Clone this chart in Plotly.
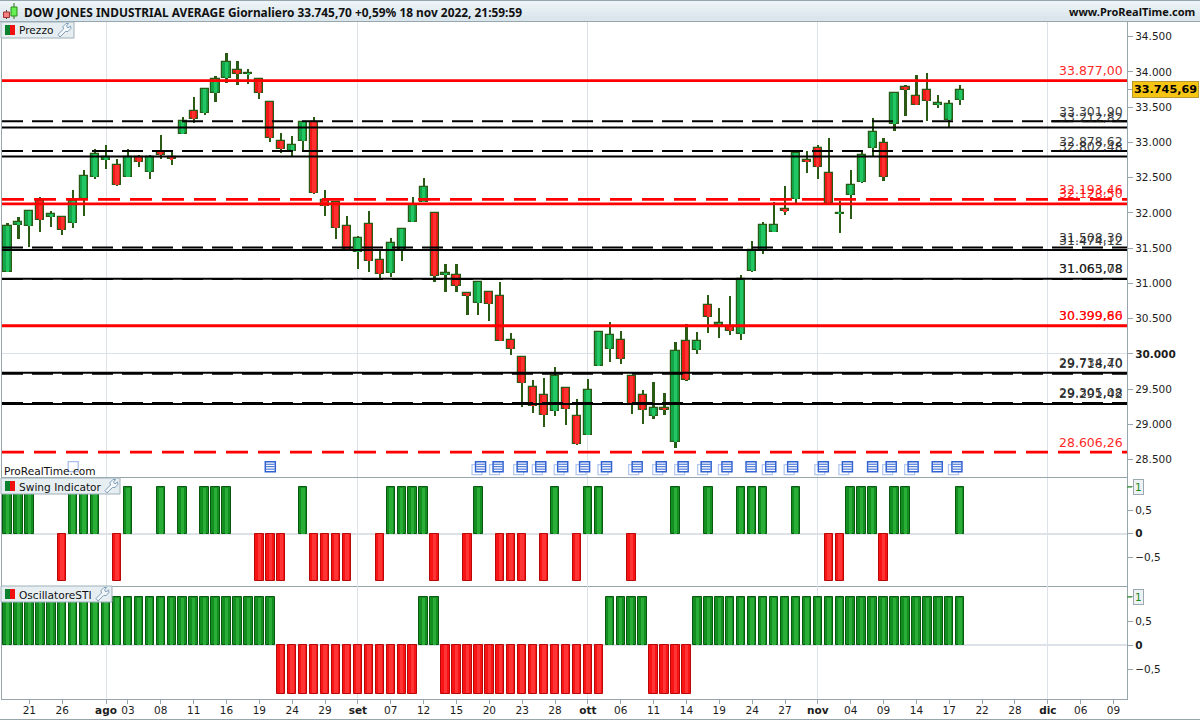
import plotly.graph_objects as go

# ---------- data ----------
opens = [31157,31824,31809,32174,31937,31947,31852,32193,32505,32751,32680,32505,32788,32576,32859,32788,33119,33446,33413,33696,33909,34027,33970,33895,33573,33020,32883,33015,33290,32188,
         32150,31819,31441,31843,31332,31143,31488,31866,32150,31999,31114,31119,30864,30717,30878,30821,30197,29956,29531,29417,29190,29516,29119,28845,29828,30070,30197,29687,29417,29114,
         29233,28746,30183,30051,30694,30415,30396,30278,31171,31460,31724,32055,32193,32751,32921,32566,31990,32249,32443,32916,32992,33257,33786,33658,33744,33535,33313,33602]
highs = [31852,31946,32046,32221,32032,31947,32330,32614,32907,32968,32770,32911,32826,32826,33110,32869,33365,33649,33758,33947,34273,34160,34046,33895,33573,33138,33096,33300,33360,32330,
         32174,31961,31677,32032,31464,31649,31772,32230,32500,31999,31280,31280,30864,31020,30878,31020,30296,29956,29635,29663,29819,29516,29360,29644,30325,30452,30325,29687,29488,29601,
         29445,30169,30424,30311,30835,30651,30821,31119,31601,31876,32159,32386,32860,32878,32963,33067,32164,32614,32892,33351,33067,33720,33819,33961,33989,33677,33606,33819]
lows = [31157,31634,31521,31725,31805,31692,31791,31961,32476,32628,32377,32505,32647,32476,32760,32684,33119,33271,33384,33569,33838,33810,33824,33611,33001,32845,32812,32874,32264,31961,
        31635,31470,31209,31166,31044,31086,31313,31866,32150,31015,30873,30873,30547,30547,30462,30178,29980,29242,29157,28958,29114,28987,28703,28845,29828,29880,29852,29143,29001,29072,
        29129,28661,29611,29994,30292,30221,30263,30192,31157,31412,31724,31975,32145,32571,32476,32145,31710,31918,32420,32807,32457,33157,33379,33526,33309,33493,33219,33526]
closes = [31819,31871,32032,31900,31985,31753,32174,32528,32836,32788,32396,32798,32722,32798,32817,32765,33299,33332,33758,33895,34141,33970,33989,33701,33063,32907,32963,33290,32278,32098,
          31781,31488,31644,31318,31129,31573,31772,32112,32367,31100,31148,30958,30821,31020,30703,30178,30065,29587,29261,29133,29687,29218,28717,29488,30311,30268,29923,29289,29204,29233,
          29200,30041,29625,30183,30519,30438,30325,31062,31474,31828,31828,32027,32850,32722,32651,32145,32004,32396,32822,33148,32505,33706,33744,33526,33587,33559,33545,33745]
swing = [1,1,1,0,0,-1,1,1,1,0,-1,1,0,0,1,0,1,0,1,1,1,0,0,-1,-1,-1,0,1,-1,-1,
         -1,-1,0,0,-1,1,1,1,1,-1,0,0,-1,1,0,-1,-1,-1,0,-1,1,0,-1,1,1,0,0,-1,0,0,
         0,1,0,0,1,0,0,1,1,1,0,0,1,0,0,-1,-1,1,1,1,-1,1,1,0,0,0,0,1]
osc = [1]*25 + [-1]*13 + [1]*2 + [-1]*15 + [1]*4 + [-1]*4 + [1]*25

x_tick_idx = [2,5,9,11,14,17,20,23,26,29,32,35,38,41,44,47,50,53,56,59,62,65,68,71,74,77,80,83,86,89,92,95,98,101]
x_tick_txt = ["21","26","<b>ago</b>","03","08","11","16","19","24","29","<b>set</b>","07","12","15","20","23","28","<b>ott</b>",
              "06","11","14","19","24","27","<b>nov</b>","04","09","14","17","22","28","<b>dic</b>","06","09"]
month_idx = [9,32,53,74,95]

p_ticks = [34500,34000,33500,33000,32500,32000,31500,31000,30500,30000,29500,29000,28500,33745.69]
p_ticktxt = ["34.500","34.000","33.500","33.000","32.500","32.000","31.500","31.000","30.500","<b>30.000</b>","29.500","29.000","28.500",""]
ind_ticks = [1,0.5,0,-0.5]
ind_ticktxt = [" ","0,5","<b>0</b>","−0,5"]

solid_black = [33212.82,32802.48,31474.12,31065.08,29734.70,29291.42]
dash_black = [33301.90,32878.62,31508.30,31063.78,29718.40,29305.08]
solid_red = [33877.00,32128.50,30399.80,30399.66]
dash_red = [32193.46,28606.26]
overlap_black = [33301.90,32878.62]
overlap_from_idx = 95.3
def fmt(v):
    return f"{v:,.2f}".replace(",", "X").replace(".", ",").replace("X", ".")

doc_double = [43.2,44.8,47,48.7,50.7,52.7,54.7,57.5,59.7,61.7,63.8,65.7,69.7,71.7,74.5,76.7,80.7,82.7,86.7]
doc_single = [24,67.9,79,84.9]
doc_faint = [6]
doc_price = 28401
doc_back_price = 28360
doc_line_offsets = [-35,0,35]

# ---------- geometry ----------
W, H = 1200, 720
XR = [-0.5, 102.23]
def px(x): return x / W
def py(y): return 1 - y / H

GREEN_BODY, GREEN_LIGHT = "#12a549", "#22c663"
RED_BODY, RED_LIGHT = "#f21818", "#ff3030"
WICK = "#2b5a14"
idx = list(range(len(opens)))
up = [c >= o for o, c in zip(opens, closes)]
body_low = [min(o, c) for o, c in zip(opens, closes)]
body_h = [abs(c - o) for o, c in zip(opens, closes)]

fig = go.Figure()
fig.add_trace(go.Bar(x=idx, base=lows, y=[h - l for h, l in zip(highs, lows)], width=0.2,
                     marker=dict(color=WICK, line=dict(width=0)), xaxis="x", yaxis="y"))
fig.add_trace(go.Bar(x=idx, base=body_low, y=body_h, width=0.74,
                     marker=dict(color=[GREEN_BODY if u else RED_BODY for u in up],
                                 line=dict(color=WICK, width=1.2)), xaxis="x", yaxis="y"))
fig.add_trace(go.Bar(x=idx, base=body_low, y=body_h, width=0.3,
                     marker=dict(color=[GREEN_LIGHT if u else RED_LIGHT for u in up], line=dict(width=0)),
                     xaxis="x", yaxis="y"))

def level_lines(levels, color, width, dash, x=XR):
    for v in levels:
        fig.add_trace(go.Scatter(x=x, y=[v, v], mode="lines", xaxis="x", yaxis="y",
                                 line=dict(color=color, width=width, dash=dash)))
level_lines(dash_black, "#000000", 2, "21px,9px")
level_lines(overlap_black, "#000000", 2, "solid", x=[overlap_from_idx, XR[1]])
level_lines(solid_black, "#000000", 2, "solid")
level_lines(dash_red, "#ff0000", 2.7, "22px,10px")
level_lines(solid_red, "#ff0000", 2.7, "solid")

# document markers
doc_all = doc_double + doc_single
fig.add_trace(go.Scatter(x=[v - 0.32 for v in doc_double], y=[doc_back_price] * len(doc_double), mode="markers", xaxis="x", yaxis="y",
                         marker=dict(symbol="square", size=10, color="#ffffff", line=dict(color="#b4c8f0", width=1.3))))
fig.add_trace(go.Scatter(x=doc_all, y=[doc_price] * len(doc_all), mode="markers", xaxis="x", yaxis="y",
                         marker=dict(symbol="square", size=10, color="#ffffff", line=dict(color="#2f62d0", width=1.5))))
for off in doc_line_offsets:
    fig.add_trace(go.Scatter(x=doc_all, y=[doc_price + off] * len(doc_all), mode="markers", xaxis="x", yaxis="y",
                             marker=dict(symbol="line-ew", size=6, line=dict(color="#2f62d0", width=1))))
fig.add_trace(go.Scatter(x=doc_faint, y=[doc_price], mode="markers", xaxis="x", yaxis="y",
                         marker=dict(symbol="square", size=10, color="#ffffff", line=dict(color="#a9bfea", width=1.3))))

def ind_bars(vals, xa, ya):
    xs = [i for i, v in zip(idx, vals) if v != 0]
    ys = [v for v in vals if v != 0]
    fig.add_trace(go.Bar(x=xs, y=ys, width=0.77, xaxis=xa, yaxis=ya,
                         marker=dict(color=["#128f20" if v > 0 else "#f81414" for v in ys],
                                     line=dict(color=["#075a10" if v > 0 else "#b80808" for v in ys], width=1))))
    fig.add_trace(go.Bar(x=xs, y=[v * 0.985 for v in ys], width=0.32, xaxis=xa, yaxis=ya,
                         marker=dict(color=["#2aae38" if v > 0 else "#ff3434" for v in ys], line=dict(width=0))))
ind_bars(swing, "x2", "y2")
ind_bars(osc, "x3", "y3")

AXC = "#97a5ad"
TICKF = dict(family="DejaVu Sans", size=10.5, color="#1c1c1c")
def xaxis_cfg(show):
    return dict(domain=[px(2), px(1127)], range=XR, showgrid=False, zeroline=False, showline=True, linecolor=AXC, linewidth=1.2,
                mirror=False, tickmode="array", tickvals=x_tick_idx, ticktext=x_tick_txt, showticklabels=show,
                ticks="outside" if show else "", ticklen=4, tickcolor=AXC, tickfont=TICKF, ticklabelstandoff=-3 if show else 0,
                minor=dict(tickmode="array", tickvals=month_idx, showgrid=True, gridcolor="#dde1e8", gridwidth=1, ticks=""))
def yaxis_cfg(dom, rng, vals, txt, anchor):
    return dict(domain=dom, range=rng, side="right", anchor=anchor, tickmode="array", tickvals=vals, ticktext=txt,
                showgrid=False, zeroline=False, showline=True, mirror=True, linecolor=AXC, linewidth=1.2,
                ticks="outside", ticklen=5, tickcolor=AXC, tickfont=TICKF)

annotations = []
def label(x, y, text, size=10.5, color="#111", anchor="left", family="DejaVu Sans", **kw):
    annotations.append(dict(x=px(x), y=py(y), xref="paper", yref="paper", text=text, showarrow=False, xanchor=anchor, yanchor="middle",
                            font=dict(family=family, size=size, color=color), **kw))

shapes = []
def rect(x0, y0, x1, y1, fill, line=None, lw=1):
    shapes.append(dict(type="rect", xref="paper", yref="paper", x0=px(x0), x1=px(x1), y0=py(y0), y1=py(y1), fillcolor=fill,
                       line=dict(color=line or fill, width=lw if line else 0), layer="above"))

bands = ["#edf4f7", "#e8f0f4", "#e3edf2", "#dfe9ef", "#dbe6ec"]
for i, c in enumerate(bands):
    rect(0, i * 4, W, (i + 1) * 4 + 1, c)
for yy, lw in ((21.5, 1.2), (0.5, 1), (719.5, 1.2)):
    shapes.append(dict(type="line", xref="paper", yref="paper", x0=0, x1=1, y0=py(yy), y1=py(yy), line=dict(color=AXC, width=lw), layer="above"))
shapes.append(dict(type="line", xref="paper", yref="paper", x0=px(6.5), x1=px(6.5), y0=py(10), y1=py(19), line=dict(color="#444", width=1), layer="above"))
shapes.append(dict(type="line", xref="paper", yref="paper", x0=px(14), x1=px(14), y0=py(3), y1=py(19), line=dict(color="#2b6a14", width=1), layer="above"))
rect(3.5, 12, 9.5, 17.5, "#f28080", "#a03030")
rect(11, 7, 17, 16, "#66ee55", "#2b8a14")
label(22, 11.5, "<b>DOW JONES INDUSTRIAL AVERAGE Giornaliero 33.745,70 +0,59% 18 nov 2022, 21:59:59</b>", size=11.9, color="#111", family="Noto Sans")
label(1197, 11.5, "<b>www.ProRealTime.com</b>", size=11, color="#111", anchor="right", family="Noto Sans")

def tab(x1, y0, text, wx):
    rect(1, y0, x1, y0 + 16, "#e6eef2", "#9fb0bb", 1)
    rect(5, y0 + 3, 10, y0 + 13, "#0a8030")
    rect(10, y0 + 3, 15, y0 + 13, "#f01010")
    label(17, y0 + 8.5, text, size=10.6, color="#111")
    pts = [(0,11),(5.5,5.5),(5,3),(8,0),(10.5,0),(8.5,2.5),(10,4.5),(12.5,2.5),(13,5),(10,8),(7.5,8),(2,13.5)]
    d = "M" + " L".join(f"{px(wx + a):.5f},{py(y0 + 1.5 + b):.5f}" for a, b in pts) + " Z"
    shapes.append(dict(type="path", xref="paper", yref="paper", path=d, fillcolor="#f4f8fa", line=dict(color="#7f9db8", width=1), layer="above"))
tab(74, 22, "Prezzo", 58)
tab(120, 478, "Swing Indicator", 105)
tab(112, 586, "OscillatoreSTI", 96)

label(1.5, 471, "ProRealTime.com", size=10.6, color="#111")

for y in (487, 597):
    annotations.append(dict(x=px(1138), y=py(y), xref="paper", yref="paper", text="1", showarrow=False, xanchor="center", yanchor="middle",
                            font=dict(family="DejaVu Sans", size=10.5, color="#1a8a1a"), bgcolor="#eef2f4", bordercolor="#9aa8b0", borderwidth=1, borderpad=1))
    shapes.append(dict(type="line", xref="paper", yref="paper", x0=px(1127), x1=px(1132), y0=py(y), y1=py(y), line=dict(color="#1a8a1a", width=1), layer="above"))

for levels, col in ((dash_black + solid_black, "#1a1a1a"), (dash_red + solid_red, "#ff0000")):
    for v in levels:
        annotations.append(dict(x=px(1125), xref="paper", y=v, yref="y", yshift=10, xanchor="right", yanchor="middle", showarrow=False, text=fmt(v),
                                font=dict(family="DejaVu Sans", size=12.5, color=col), opacity=0.85))
annotations.append(dict(x=px(1165), xref="paper", y=33745.69, yref="y", xanchor="center", yanchor="middle", showarrow=False, text="<b>33.745,69</b>",
                        font=dict(family="DejaVu Sans", size=11.2, color="#000"), bgcolor="#f6c412", bordercolor="#b89a30", borderwidth=1, borderpad=1))

fig.update_layout(
    width=W, height=H, margin=dict(l=0, r=0, t=0, b=0, pad=0), autosize=False,
    paper_bgcolor="#ffffff", plot_bgcolor="#ffffff", showlegend=False, barmode="overlay", bargap=0, hovermode=False,
    xaxis=xaxis_cfg(False), xaxis2=dict(xaxis_cfg(False), anchor="y2"), xaxis3=dict(xaxis_cfg(True), anchor="y3"),
    yaxis=dict(yaxis_cfg([py(477), py(22)], [28254.7, 34708.6], p_ticks, p_ticktxt, "x"),
               minor=dict(tickmode="array", tickvals=[30000], showgrid=True, gridcolor="#dde1e8", gridwidth=1, ticks="")),
    yaxis2=dict(yaxis_cfg([py(586), py(478)], [-1.117, 1.19], ind_ticks, ind_ticktxt, "x2"),
                minor=dict(tickmode="array", tickvals=[0], showgrid=True, gridcolor="#dde1e8", gridwidth=1.5, ticks="")),
    yaxis3=dict(yaxis_cfg([py(699), py(586)], [-1.113, 1.227], ind_ticks, ind_ticktxt, "x3"),
                minor=dict(tickmode="array", tickvals=[0], showgrid=True, gridcolor="#dde1e8", gridwidth=1.5, ticks="")),
    annotations=annotations, shapes=shapes,
)
fig.write_html("out.html", config={"displayModeBar": False},
               post_script="document.body.style.margin='0';document.body.style.overflow='hidden';")
